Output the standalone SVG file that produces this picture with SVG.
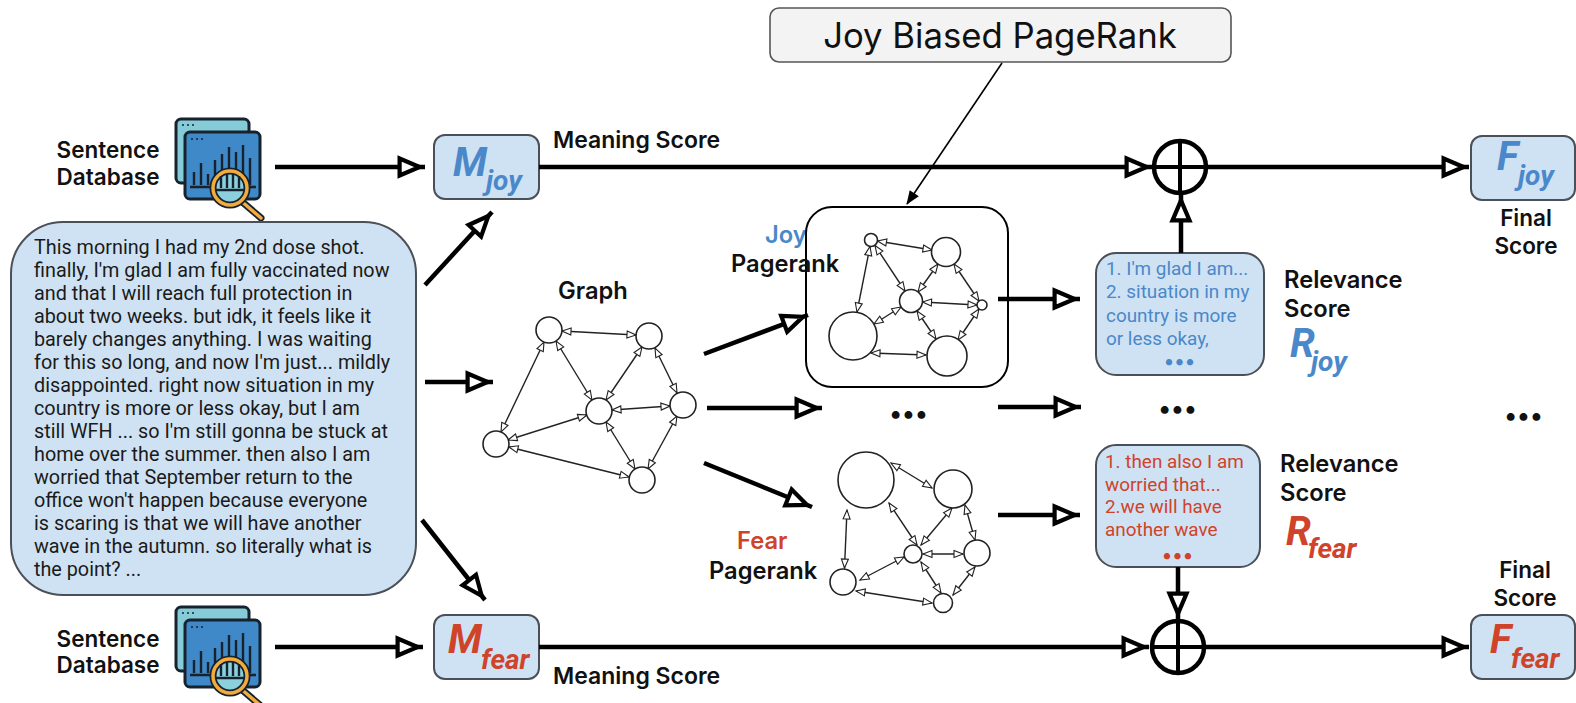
<svg xmlns="http://www.w3.org/2000/svg" width="1576" height="703" viewBox="0 0 1576 703">
<style>
text{font-family:Inter,Roboto,"Liberation Sans",sans-serif;fill:#111}
.lb{font-size:22.500px;font-weight:600}
.lg{font-size:23.700px;font-weight:600}
.lm{font-size:23px;font-weight:600}
.body{font-family:Roboto,"Liberation Sans",sans-serif;font-size:19.800px;fill:#1a1a1a}
.blue{fill:#4a88c9}
.red{fill:#d0432b}
.box{fill:#cfe2f3;stroke:#4a5058;stroke-width:2}
.sym{font-family:Roboto,"Liberation Sans",sans-serif;font-style:italic;font-weight:700;font-size:40px}
.sub{font-family:Roboto,"Liberation Sans",sans-serif;font-style:italic;font-weight:700;font-size:28px}
.rs{font-family:Roboto,"Liberation Sans",sans-serif;font-size:18.900px}
.n{fill:#fff;stroke:#222;stroke-width:1.6}
.e{stroke:#222;stroke-width:1.4;fill:none;marker-start:url(#s);marker-end:url(#s)}
.a{stroke:#000;stroke-width:4.500;fill:none;marker-end:url(#h)}
.dots{font-size:25px;font-weight:700;text-anchor:middle;letter-spacing:1px}
</style>
<defs>
<marker id="h" markerUnits="userSpaceOnUse" markerWidth="32" markerHeight="26" refX="28.400" refY="11" orient="auto" overflow="visible"><polygon points="3,2.500 23,11 3,19.500" fill="#fff" stroke="#000" stroke-width="4.200"/></marker>
<marker id="s" markerUnits="userSpaceOnUse" markerWidth="12" markerHeight="10" refX="10" refY="4" orient="auto-start-reverse" overflow="visible"><polygon points="1,0.500 10,4 1,7.500" fill="#fff" stroke="#222" stroke-width="1.100"/></marker>
<marker id="t" markerUnits="userSpaceOnUse" markerWidth="14" markerHeight="12" refX="13" refY="5.500" orient="auto" overflow="visible"><polygon points="0,0 14,5.500 0,11" fill="#000"/></marker>
<g id="icon">
<rect x="176" y="119" width="73" height="64" rx="5" fill="#86cbd8" stroke="#16222e" stroke-width="3"/>
<circle cx="183" cy="125" r="1" fill="#16222e"/><circle cx="188" cy="125" r="1" fill="#16222e"/><circle cx="193" cy="125" r="1" fill="#16222e"/>
<rect x="185" y="132" width="75" height="67" rx="5" fill="#3f89c9" stroke="#16222e" stroke-width="3"/>
<circle cx="192" cy="139" r="1" fill="#16222e"/><circle cx="197" cy="139" r="1" fill="#16222e"/><circle cx="202" cy="139" r="1" fill="#16222e"/>
<path d="M190 187H256M194 185V172M201 185V163M208 185V174M215 180V160M222 175V154M229 170V147M236 172V152M243 175V145M250 185V158" stroke="#16222e" stroke-width="2.400" fill="none"/>
<path d="M240 200L261 218" stroke="#16222e" stroke-width="7" stroke-linecap="round"/>
<path d="M240 200L261 218" stroke="#f2ab3c" stroke-width="3.500" stroke-linecap="round"/>
<circle cx="230" cy="188" r="17" fill="#8bd0dc" stroke="#16222e" stroke-width="7"/>
<circle cx="230" cy="188" r="17" fill="none" stroke="#f2ab3c" stroke-width="3.500"/>
<path d="M221 188V176M227 188V174M233 188V174M239 188V176M215 190H245" stroke="#16222e" stroke-width="2.400" fill="none"/>
</g>
</defs>
<rect width="1576" height="703" fill="#fff"/>

<g id="title-node"><rect x="770" y="8" width="461" height="54" rx="9" fill="#f3f3f3" stroke="#555" stroke-width="1.600"/>
<text x="1000" y="48" text-anchor="middle" style="font-size:34.700px">Joy Biased PageRank</text></g>

<g id="db-top"><use href="#icon"/><text class="lb" x="108" y="158" text-anchor="middle">Sentence</text><text class="lb" x="108" y="185" text-anchor="middle">Database</text></g>
<g id="db-bottom"><use href="#icon" y="488"/><text class="lb" x="108" y="647" text-anchor="middle">Sentence</text><text class="lb" x="108" y="673" text-anchor="middle">Database</text></g>

<g id="input-text"><rect class="box" x="11" y="222" width="405" height="373" rx="52"/>
<text class="body" x="34"><tspan x="34" y="254">This morning I had my 2nd dose shot.</tspan><tspan x="34" y="277">finally, I'm glad I am fully vaccinated now</tspan><tspan x="34" y="300">and that I will reach full protection in</tspan><tspan x="34" y="323">about two weeks. but idk, it feels like it</tspan><tspan x="34" y="346">barely changes anything. I was waiting</tspan><tspan x="34" y="369">for this so long, and now I'm just... mildly</tspan><tspan x="34" y="392">disappointed. right now situation in my</tspan><tspan x="34" y="415">country is more or less okay, but I am</tspan><tspan x="34" y="438">still WFH ... so I'm still gonna be stuck at</tspan><tspan x="34" y="461">home over the summer. then also I am</tspan><tspan x="34" y="484">worried that September return to the</tspan><tspan x="34" y="507">office won't happen because everyone</tspan><tspan x="34" y="530">is scaring is that we will have another</tspan><tspan x="34" y="553">wave in the autumn. so literally what is</tspan><tspan x="34" y="576">the point? ...</tspan></text></g>

<g id="m-joy"><rect class="box" x="434" y="135" width="105" height="64" rx="11"/><text class="sym blue" x="453" y="176">M</text><text class="sub blue" x="486" y="190">joy</text></g>
<g id="m-fear"><rect class="box" x="434" y="615" width="105" height="64" rx="11"/><text class="sym red" x="448" y="653">M</text><text class="sub red" x="481" y="669">fear</text></g>
<g id="f-joy"><rect class="box" x="1471" y="136" width="104" height="64" rx="11"/><text class="sym blue" x="1497" y="170">F</text><text class="sub blue" x="1518" y="185">joy</text></g>
<g id="f-fear"><rect class="box" x="1471" y="615" width="104" height="64" rx="11"/><text class="sym red" x="1490" y="653">F</text><text class="sub red" x="1511" y="668">fear</text></g>

<text id="meaning-top" class="lm" x="553" y="148">Meaning Score</text>
<text id="meaning-bottom" class="lm" x="553" y="684">Meaning Score</text>
<text id="graph-label" class="lg" x="558" y="299">Graph</text>
<text id="joy-label" class="lg blue" x="765" y="243">Joy</text>

<g id="joy-graph"><rect x="806" y="207" width="202" height="180" rx="26" fill="#fff" stroke="#000" stroke-width="2"/>
<path class="e" d="M877.500 241L932 250"/><path class="e" d="M875 245.500L905 291"/><path class="e" d="M870 246.500L857 312"/><path class="e" d="M938 264L918 292"/><path class="e" d="M954 264L979 301"/><path class="e" d="M922.500 302L977 305"/><path class="e" d="M901 307L874 324"/><path class="e" d="M917 311L936 339"/><path class="e" d="M979 309L958 340"/><path class="e" d="M871 353L926 355"/>
<circle class="n" cx="871" cy="240" r="6.500"/><circle class="n" cx="946" cy="252" r="14.500"/><circle class="n" cx="911" cy="301" r="11.500"/><circle class="n" cx="982" cy="305" r="5"/><circle class="n" cx="853" cy="336" r="24"/><circle class="n" cx="947" cy="356" r="20"/></g>
<text id="joy-pagerank" class="lg" x="731" y="272">Pagerank</text>

<g id="graph"><path class="e" d="M562 331L636 335"/><path class="e" d="M556 341L592 400"/><path class="e" d="M544 342L501 432"/><path class="e" d="M642 347L606 400"/><path class="e" d="M655 348L677 393"/><path class="e" d="M612 410L670 406"/><path class="e" d="M587 415L508 440"/><path class="e" d="M606 422L635 469"/><path class="e" d="M677 416L648 469"/><path class="e" d="M509 447L629 477"/>
<circle class="n" cx="549" cy="330" r="13"/><circle class="n" cx="649" cy="336" r="13"/><circle class="n" cx="599" cy="411" r="13"/><circle class="n" cx="683" cy="405" r="13"/><circle class="n" cx="496" cy="444" r="13"/><circle class="n" cx="642" cy="480" r="13"/></g>

<g id="fear-graph"><path class="e" d="M891 463L932 488"/><path class="e" d="M889 503L917 545"/><path class="e" d="M847 510L844.500 568"/><path class="e" d="M952 508L921 545"/><path class="e" d="M965 505L975 540"/><path class="e" d="M923 554L963 554"/><path class="e" d="M904 557L860 580"/><path class="e" d="M921 562L941 593"/><path class="e" d="M975 567L953 595"/><path class="e" d="M856 591L932 603"/>
<circle class="n" cx="866" cy="480" r="28"/><circle class="n" cx="953" cy="489" r="19"/><circle class="n" cx="913" cy="554" r="9"/><circle class="n" cx="977" cy="553" r="13"/><circle class="n" cx="843" cy="582" r="13"/><circle class="n" cx="943" cy="603" r="9.500"/></g>
<text id="fear-label" class="lg red" x="737" y="549">Fear</text>
<text id="fear-pagerank" class="lg" x="709" y="579">Pagerank</text>

<g id="r-joy"><rect class="box" x="1096" y="253" width="168" height="122" rx="20"/>
<text class="rs blue"><tspan x="1106" y="275">1. I'm glad I am...</tspan><tspan x="1106" y="298">2. situation in my</tspan><tspan x="1106" y="322">country is more</tspan><tspan x="1106" y="345">or less okay,</tspan></text><text class="dots blue" x="1180" y="368" style="font-size:20px">•••</text></g>
<text id="rel-joy" class="lg"><tspan x="1284" y="288">Relevance</tspan><tspan x="1284" y="317">Score</tspan></text>
<g id="r-joy-symbol"><text class="sym blue" x="1290" y="357">R</text><text class="sub blue" x="1311" y="371">joy</text></g>

<g id="r-fear"><rect class="box" x="1096" y="445" width="164" height="122" rx="20"/>
<text class="rs red"><tspan x="1105" y="468">1. then also I am</tspan><tspan x="1105" y="491">worried that...</tspan><tspan x="1105" y="513">2.we will have</tspan><tspan x="1105" y="536">another wave</tspan></text><text class="dots red" x="1178" y="562" style="font-size:20px">•••</text></g>
<text id="rel-fear" class="lg"><tspan x="1280" y="472">Relevance</tspan><tspan x="1280" y="501">Score</tspan></text>
<g id="r-fear-symbol"><text class="sym red" x="1286" y="545">R</text><text class="sub red" x="1308" y="558">fear</text></g>

<g id="plus-top"><circle cx="1180" cy="167" r="26" fill="none" stroke="#000" stroke-width="4.500"/><path d="M1180 141V193M1154 167H1206" stroke="#000" stroke-width="4"/></g>
<g id="plus-bottom"><circle cx="1178" cy="647" r="26" fill="none" stroke="#000" stroke-width="4.500"/><path d="M1178 621V673M1152 647H1204" stroke="#000" stroke-width="4"/></g>

<text id="final-joy" class="lb" text-anchor="middle"><tspan x="1526" y="226">Final</tspan><tspan x="1526" y="254">Score</tspan></text>
<text id="final-fear" class="lb" text-anchor="middle"><tspan x="1525" y="578">Final</tspan><tspan x="1525" y="606">Score</tspan></text>

<text class="dots" x="909" y="422">•••</text>
<text class="dots" x="1178" y="417">•••</text>
<text class="dots" x="1524" y="424">•••</text>

<g id="connectors">
<path class="a" d="M275 167H425"/>
<path class="a" d="M425 285L492 212"/>
<path class="a" d="M425 382H493"/>
<path class="a" d="M539 167H1152"/>
<path class="a" d="M1207 167H1469"/>
<path class="a" d="M1181 253V195"/>
<path class="a" d="M704 354L808 315"/>
<path class="a" d="M707 408H822"/>
<path class="a" d="M704 463L812 507"/>
<path class="a" d="M998 299H1080"/>
<path class="a" d="M998 407H1081"/>
<path class="a" d="M998 515H1080"/>
<path class="a" d="M1178 567V619"/>
<path class="a" d="M539 647H1149"/>
<path class="a" d="M1205 647H1469"/>
<path class="a" d="M422 520L485 600"/>
<path class="a" d="M275 647H423"/>
<path d="M1002 63L907 204" stroke="#000" stroke-width="1.600" fill="none" marker-end="url(#t)"/>
</g>
</svg>
